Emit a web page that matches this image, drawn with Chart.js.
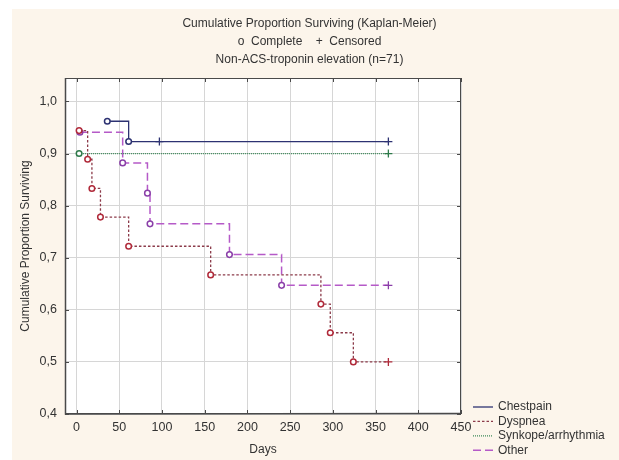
<!DOCTYPE html>
<html><head><meta charset="utf-8">
<script src="https://cdn.jsdelivr.net/npm/chart.js@4"></script>
<style>html,body{margin:0;padding:0;background:#fff}#wrap{width:619px;height:460px}</style>
</head><body><div id="wrap"><canvas id="c" width="619" height="460"></canvas></div>
<script>
const titleLines = ['Cumulative Proportion Surviving (Kaplan-Meier)', 'o  Complete    +  Censored', 'Non-ACS-troponin elevation (n=71)'];
const xTitle = 'Days';
const yTitle = 'Cumulative Proportion Surviving';
const seriesNames = ['Chestpain', 'Dyspnea', 'Synkope/arrhythmia', 'Other'];

const chestDays = [36, 61, 97, 365];
const chestSurv = [0.962, 0.923, 0.923, 0.923];
const chestCens = [0, 0, 1, 1];

const dyspDays = [3, 13, 18, 28, 61, 157, 286, 297, 324, 365];
const dyspSurv = [0.944, 0.889, 0.833, 0.778, 0.722, 0.667, 0.611, 0.556, 0.5, 0.5];
const dyspCens = [0, 0, 0, 0, 0, 0, 0, 0, 0, 1];

const synkDays = [3, 365];
const synkSurv = [0.9, 0.9];
const synkCens = [0, 1];

const otherDays = [4, 54, 83, 86, 179, 240, 365];
const otherSurv = [0.941, 0.882, 0.824, 0.765, 0.706, 0.647, 0.647];
const otherCens = [0, 0, 0, 0, 0, 0, 1];

const xTicks = [0, 50, 100, 150, 200, 250, 300, 350, 400, 450];
const yTicks = [0.4, 0.5, 0.6, 0.7, 0.8, 0.9, 1.0];

const styles = [
  {line: '#2d3272', point: '#2d3272', dash: [], width: 1.3},
  {line: '#8c3b4a', point: '#b02a3a', dash: [2.5, 2], width: 1.3},
  {line: '#3d8a5a', point: '#2e7a4a', dash: [1, 1], width: 1.2},
  {line: '#b55ac8', point: '#8a3fa8', dash: [8, 4], width: 1.5}
];

function makeSet(i, days, surv, cens) {
  const s = styles[i];
  return {
    label: seriesNames[i],
    data: days.map((d, k) => ({x: d, y: surv[k]})),
    stepped: 'before',
    borderColor: s.line,
    borderWidth: s.width,
    borderDash: s.dash,
    fill: false,
    pointStyle: cens.map(c => c ? 'cross' : 'circle'),
    pointRadius: cens.map(c => c ? 4 : 2.8),
    pointBorderWidth: cens.map(c => c ? 1.3 : 1.5),
    pointBorderColor: s.point,
    pointBackgroundColor: '#ffffff',
    pointHoverRadius: 0
  };
}

const FONT = '"Liberation Sans", Arial, sans-serif';

const decor = {
  id: 'decor',
  beforeDraw(chart) {
    const ctx = chart.ctx, a = chart.chartArea;
    ctx.save();
    ctx.fillStyle = '#ffffff';
    ctx.fillRect(0, 0, chart.width, chart.height);
    ctx.fillStyle = '#fcf5eb';
    ctx.fillRect(12, 9, chart.width - 12, chart.height - 9);
    ctx.fillStyle = '#ffffff';
    ctx.fillRect(a.left, a.top, a.right - a.left, a.bottom - a.top);
    ctx.restore();
  },
  afterDraw(chart) {
    const ctx = chart.ctx, a = chart.chartArea;
    const xs = chart.scales.x, ys = chart.scales.y;
    ctx.save();
    ctx.strokeStyle = '#4a4a4a';
    ctx.lineWidth = 1;
    ctx.setLineDash([]);
    ctx.strokeRect(a.left + 0.5, a.top + 0.5, a.right - a.left - 1, a.bottom - a.top - 1);
    ctx.lineWidth = 1.5;
    ctx.beginPath();
    ctx.moveTo(a.left + 0.5, a.top); ctx.lineTo(a.left + 0.5, a.bottom);
    ctx.lineTo(a.right, a.bottom - 0.5);
    ctx.stroke();
    ctx.lineWidth = 1;
    ctx.beginPath();
    xTicks.forEach(v => {
      const px = Math.round(xs.getPixelForValue(v)) + 0.5;
      ctx.moveTo(px, a.bottom); ctx.lineTo(px, a.bottom - 4);
      ctx.moveTo(px, a.top); ctx.lineTo(px, a.top + 4);
    });
    yTicks.forEach(v => {
      const py = Math.round(ys.getPixelForValue(v)) + 0.5;
      ctx.moveTo(a.left, py); ctx.lineTo(a.left + 4, py);
      ctx.moveTo(a.right, py); ctx.lineTo(a.right - 4, py);
    });
    ctx.stroke();
    // legend
    const lx0 = 473, lx1 = 493, tx = 498, y0 = 407, dy = 14.4;
    ctx.font = '12px ' + FONT;
    ctx.textBaseline = 'middle';
    ctx.textAlign = 'left';
    chart.data.datasets.forEach((ds, i) => {
      const y = y0 + i * dy;
      ctx.strokeStyle = ds.borderColor;
      ctx.lineWidth = ds.borderWidth;
      ctx.setLineDash(ds.borderDash || []);
      ctx.beginPath();
      ctx.moveTo(lx0, y); ctx.lineTo(lx1, y);
      ctx.stroke();
      ctx.setLineDash([]);
      ctx.fillStyle = '#333333';
      ctx.fillText(ds.label, tx, y);
    });
    ctx.restore();
  }
};

new Chart(document.getElementById('c'), {
  type: 'line',
  data: {
    datasets: [
      makeSet(0, chestDays, chestSurv, chestCens),
      makeSet(1, dyspDays, dyspSurv, dyspCens),
      makeSet(2, synkDays, synkSurv, synkCens),
      makeSet(3, otherDays, otherSurv, otherCens)
    ]
  },
  options: {
    responsive: false,
    animation: false,
    devicePixelRatio: 1,
    layout: {padding: 0},
    plugins: {
      legend: {display: false},
      tooltip: {enabled: false},
      title: {
        display: true,
        text: titleLines,
        color: '#333333',
        font: {family: FONT, size: 12, weight: 'normal', lineHeight: 1.5},
        padding: {top: 15, bottom: 9}
      }
    },
    scales: {
      x: {
        type: 'linear',
        min: -13.5,
        max: 450,
        afterBuildTicks: s => { s.ticks = xTicks.map(v => ({value: v})); },
        afterFit: s => { s.height = 46; },
        grid: {color: '#d6d6d6', lineWidth: 1, drawTicks: false},
        border: {display: false},
        ticks: {color: '#333333', font: {family: FONT, size: 12.5}, padding: 6, maxRotation: 0,
          callback: v => String(v)},
        title: {display: true, text: xTitle, color: '#333333',
          font: {family: FONT, size: 12}, padding: {top: 0, bottom: 3}}
      },
      y: {
        type: 'linear',
        position: 'left',
        min: 0.4,
        max: 1.045,
        afterBuildTicks: s => { s.ticks = yTicks.map(v => ({value: v})); },
        afterFit: s => { s.width = 65; },
        grid: {color: '#d6d6d6', lineWidth: 1, drawTicks: false},
        border: {display: false},
        ticks: {color: '#333333', font: {family: FONT, size: 12.5}, padding: 8,
          callback: v => Number(v).toFixed(1).replace('.', ',')},
        title: {display: true, text: yTitle, color: '#333333',
          font: {family: FONT, size: 12}, padding: {top: 18, bottom: 0}}
      },
      yR: {
        type: 'linear',
        position: 'right',
        display: true,
        afterFit: s => { s.width = 158; },
        grid: {display: false},
        border: {display: false},
        ticks: {display: false}
      }
    }
  },
  plugins: [decor]
});
</script>
</body></html>
